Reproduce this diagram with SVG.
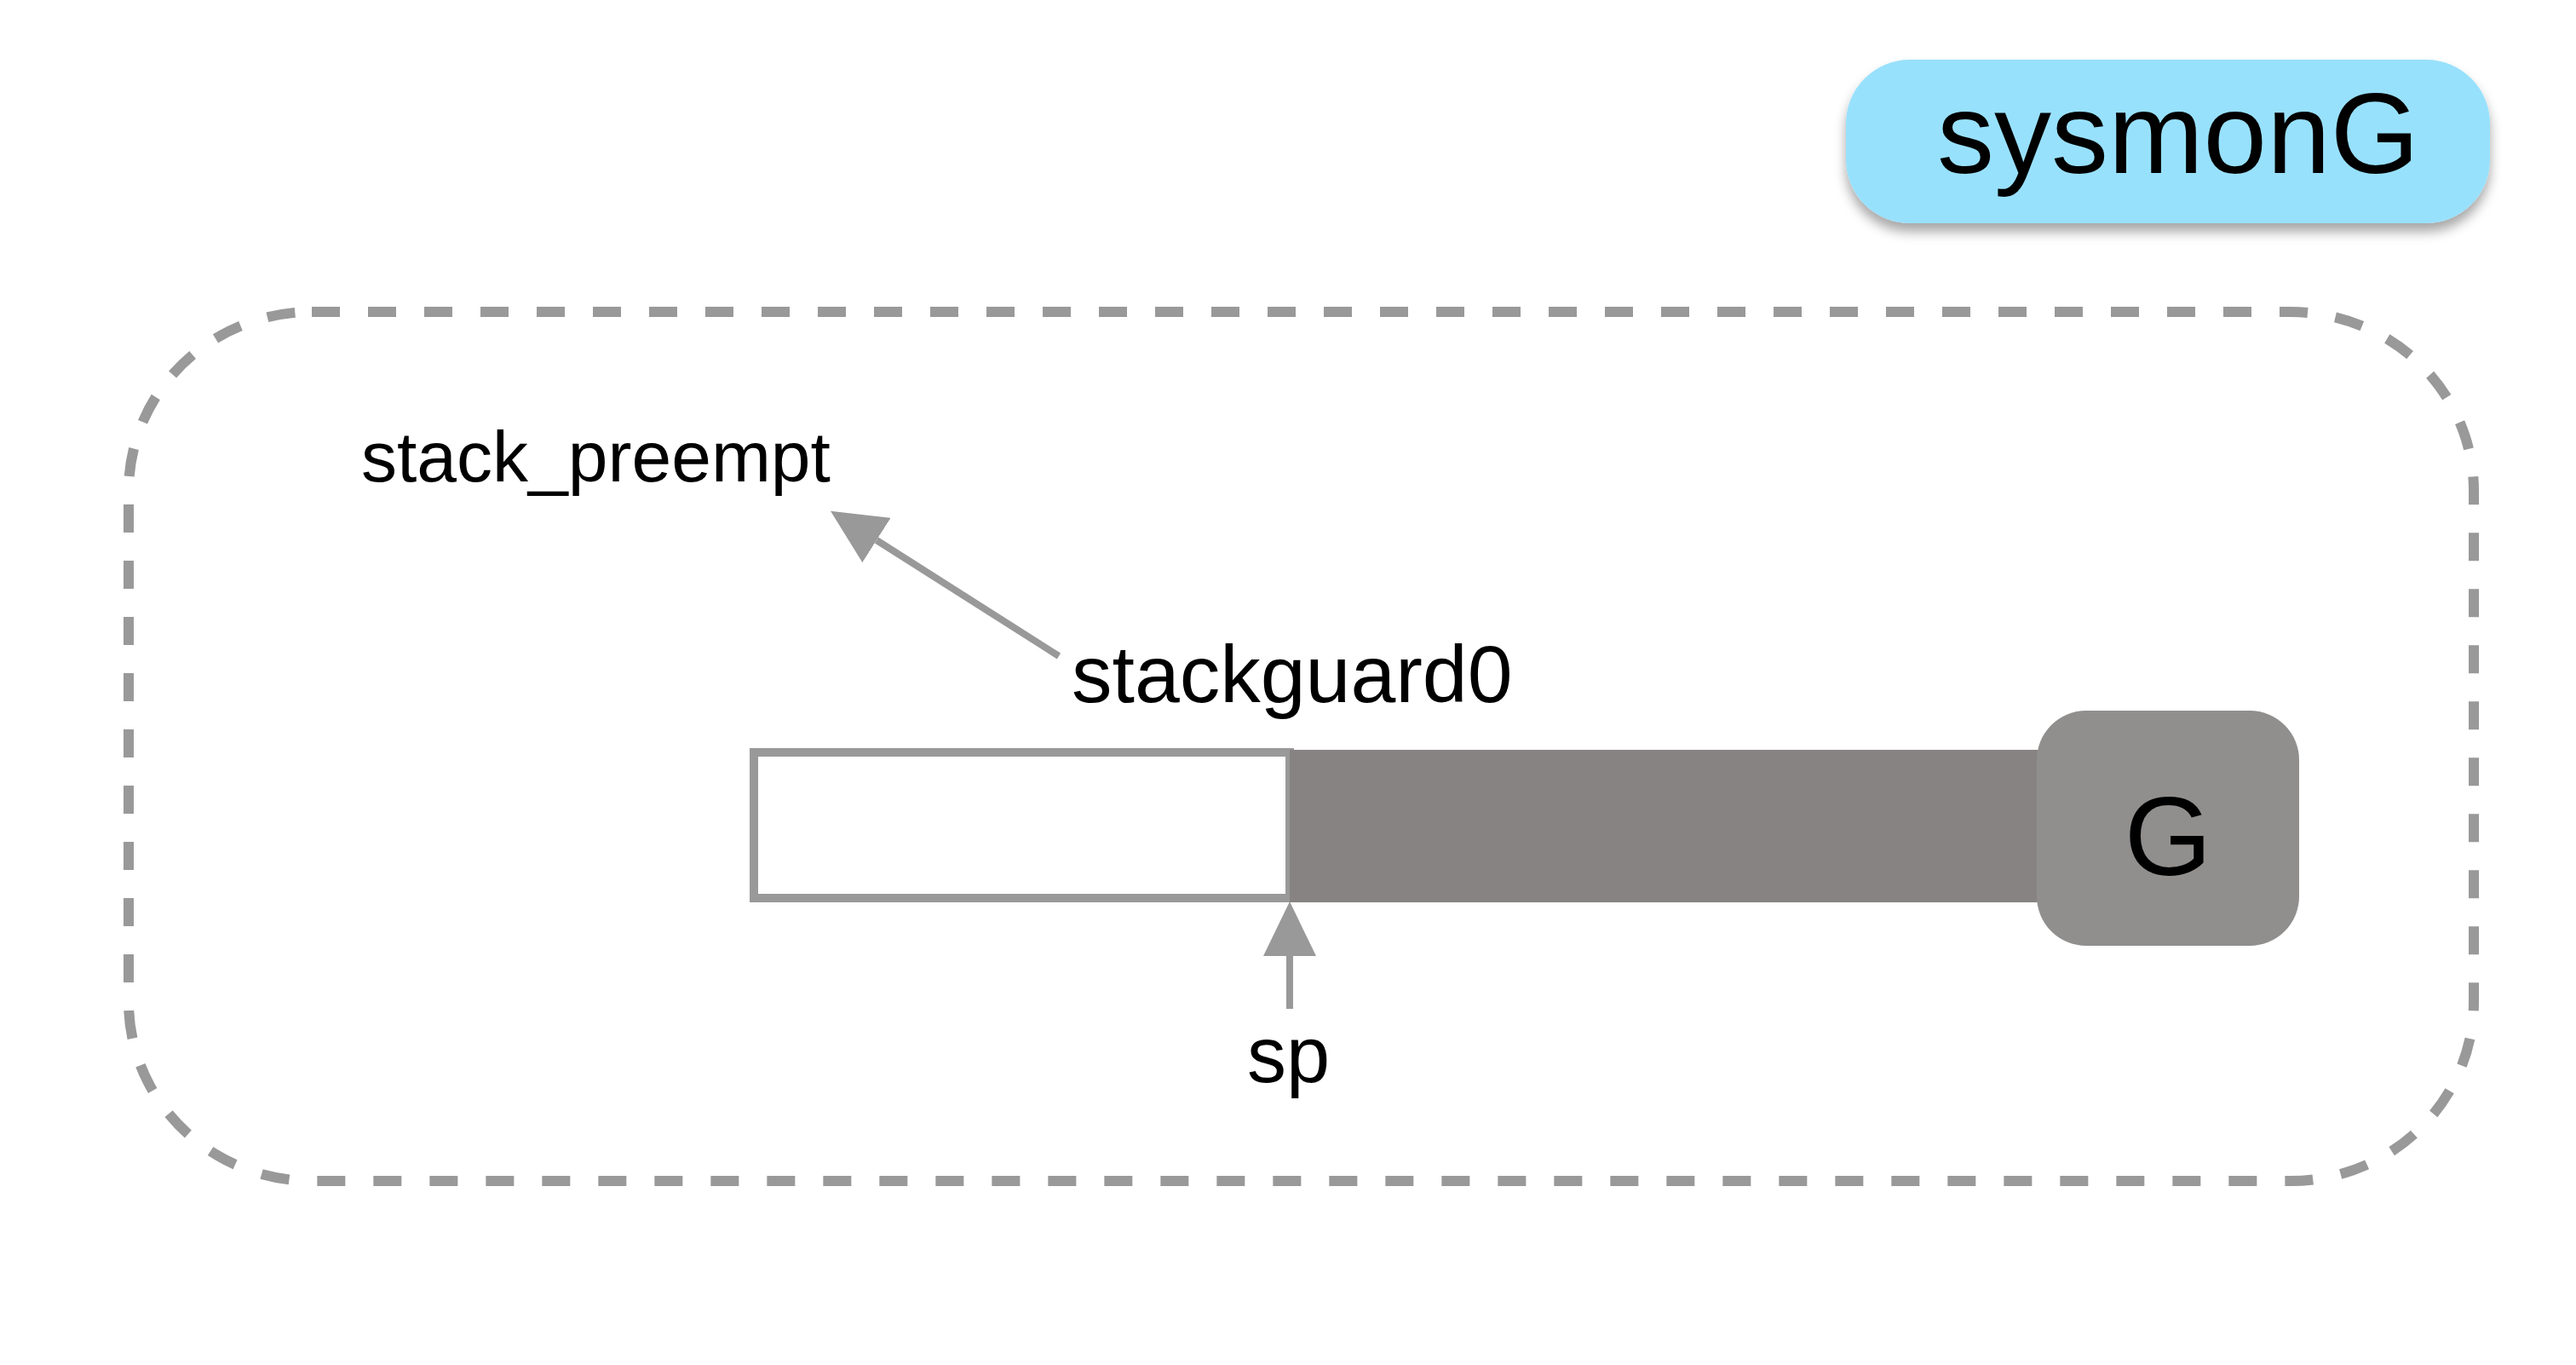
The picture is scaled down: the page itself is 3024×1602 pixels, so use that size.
<svg xmlns="http://www.w3.org/2000/svg" width="3024" height="1602" viewBox="0 0 3024 1602">
<style>
text{font-family:"Liberation Sans",Arial,Helvetica,sans-serif;fill:#000}
.conn{stroke:#999;stroke-width:8;fill:none}
</style>
<defs>
<filter id="sh" x="-10%" y="-20%" width="120%" height="150%">
<feDropShadow dx="0" dy="10" stdDeviation="7" flood-color="#000" flood-opacity="0.35"/>
</filter>
<marker id="ah" markerUnits="userSpaceOnUse" viewBox="0 0 64 62" markerWidth="64" markerHeight="62" refX="0" refY="31" orient="auto">
<path d="M0,0 L64,31 L0,62 Z" fill="#999"/>
</marker>
</defs>
<rect width="3024" height="1602" fill="#fff"/>
<g id="frame">
<rect x="151" y="366" width="2753" height="1020" rx="215" ry="210" fill="none" stroke="#999" stroke-width="12" stroke-dasharray="33 33"/>
</g>
<g id="sysmonG">
<rect x="2167" y="70" width="756" height="192" rx="75" ry="75" fill="#98E1FD" filter="url(#sh)"/>
<text x="2274" y="203" font-size="134">sysmonG</text>
</g>
<g id="stack">
<rect x="885" y="883" width="629" height="171" fill="#fff" stroke="#999" stroke-width="10"/>
<rect x="1514" y="880" width="878" height="179" fill="#878382"/>
</g>
<g id="G">
<rect x="2391" y="834" width="308" height="276" rx="58" ry="58" fill="#918F8E"/>
<text x="2545" y="1027" font-size="132" text-anchor="middle">G</text>
</g>
<g id="labels">
<text x="424" y="565" font-size="84">stack_preempt</text>
<text x="1258" y="824" font-size="95">stackguard0</text>
<text x="1464" y="1270" font-size="92">sp</text>
</g>
<g id="connectors">
<line class="conn" x1="1514" y1="1184" x2="1514" y2="1122" marker-end="url(#ah)"/>
<line class="conn" x1="1243" y1="770" x2="1029" y2="634" marker-end="url(#ah)"/>
</g>
</svg>
